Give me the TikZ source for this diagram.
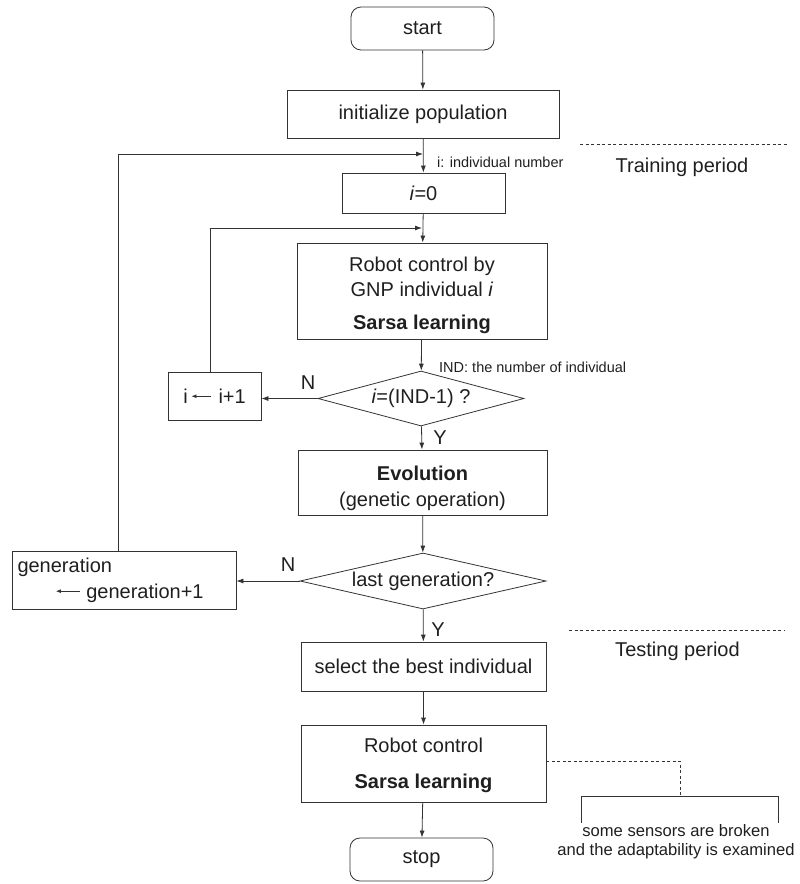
\documentclass[tikz,border=0pt]{standalone}
\usepackage{fontspec}
\setmainfont{Liberation Sans}
\usetikzlibrary{shapes.geometric,arrows.meta}

\definecolor{tc}{gray}{0.12}
\definecolor{lc}{gray}{0.2}

\newcommand\mainsz{\fontsize{20pt}{25pt}\selectfont}
\newcommand\notesz{\fontsize{14.5pt}{17pt}\selectfont}
\newcommand\midsz{\fontsize{16.6pt}{19pt}\selectfont}
% short left arrow used inside assignment boxes
\newcommand\assignarrow[1]{\tikz[baseline=-7pt]\draw[draw=lc,line width=0.8pt,-{Latex[length=5pt,width=4pt]}] (#1,0pt) -- (0pt,0pt);}
% invisible strut that lowers a multi-line box text
\newcommand\topstrut[1]{\rule{0pt}{#1}}

\tikzset{
  base/.style={draw=lc, line width=0.8pt, text=tc, inner sep=0pt, font=\mainsz},
  proc/.style={base, rectangle, align=center},
  term/.style={base, rectangle, rounded corners=10pt},
  decide/.style={base, diamond, aspect=4},
  flow/.style={draw=lc, line width=0.8pt, -{Latex[length=7pt,width=5pt]}},
  plain/.style={draw=lc, line width=0.8pt},
  period/.style={draw=lc, line width=0.8pt, dash pattern=on 3pt off 2.5pt},
  lbl/.style={text=tc, inner sep=0pt, font=\mainsz},
  note/.style={text=tc, inner sep=0pt, font=\notesz, anchor=west},
}

\begin{document}
\begin{tikzpicture}[x=1pt,y=-1pt]
\useasboundingbox (0,0) rectangle (800,884);

% main flow
\node[term, minimum width=143pt, minimum height=43pt] (start) at (422.5,28.5) {start};
\node[proc, minimum width=272pt, minimum height=48pt] (init) at (423,114) {initialize population};
\node[proc, minimum width=163pt, minimum height=40pt] (i0) at (423.5,193) {\textit{i}=0};
\node[proc, minimum width=250pt, minimum height=96pt] (rob) at (422,291)
  {\topstrut{22.3pt}Robot control by\\GNP individual \textit{i}\\[8pt]\textbf{Sarsa learning}};
\node[decide, minimum width=206pt, minimum height=55pt] (d1) at (421,398.5) {\textit{i}=(IND-1) ?};
\node[proc, minimum width=93pt, minimum height=48pt] (inc) at (214.5,396)
  {i\,\assignarrow{20pt}\,\,i+1};
\node[proc, minimum width=249pt, minimum height=65pt] (evo) at (422.5,482.5)
  {\topstrut{26.3pt}\textbf{Evolution}\\[1pt](genetic operation)};
\node[decide, minimum width=246pt, minimum height=56pt] (d2) at (423,581) {last generation?};
\node[base, rectangle, align=left, minimum width=224pt, minimum height=58pt,
      text width=213pt] (gen) at (124,580)
  {generation\\[1pt]\hspace*{38pt}\assignarrow{24pt}\hspace*{6pt}generation+1};
\node[proc, minimum width=245pt, minimum height=49pt] (sel) at (423.5,666.5) {select the best individual};
\node[proc, minimum width=245pt, minimum height=77pt] (rob2) at (423.5,763.5)
  {\topstrut{18.3pt}Robot control\\[11pt]\textbf{Sarsa learning}};
\node[term, minimum width=143pt, minimum height=43pt] (stop) at (421.5,859.5) {stop};

% junction points of the loops
\coordinate (j0) at (423,154);
\coordinate (j1) at (422,228);

% connectors
\draw[flow] (start) -- (init);
\draw[flow] (init) -- (i0);
\draw[flow] (i0) -- (rob);
\draw[flow] (rob) -- (d1);
\draw[flow] (d1) -- (evo);
\draw[flow] (d1.west) -- (d1.west -| inc.east);
\draw[flow] ([xshift=-4.5pt]inc.north) |- (j1);
\draw[flow] (evo) -- (d2);
\draw[flow] (d2.west) -- (d2.west -| gen.east);
\draw[flow] ([xshift=-6pt]gen.north) |- (j0);
\draw[flow] (d2) -- (sel);
\draw[flow] (sel) -- (rob2);
\draw[flow] (rob2) -- (stop);

% branch labels
\node[lbl] (n1) at (308,383) {N};
\node[lbl] (n2) at (288,565) {N};
\node[lbl] (y1) at (440,438) {Y};
\node[lbl] (y2) at (438,630) {Y};

% side notes
\node[note] (inote) at (437,162) {i: individual number};
\node[note] (indnote) at (439,367) {IND: the number of individual};

% period separators
\coordinate (trL) at (580,144);
\coordinate (trR) at (787,144);
\draw[period] (trL) -- (trR);
\node[lbl] (train) at (682,167) {Training period};
\coordinate (teL) at (569,630);
\coordinate (teR) at (785,630);
\draw[period] (teL) -- (teR);
\node[lbl] (test) at (677.5,651) {Testing period};

% broken-sensor annotation
\coordinate (brk) at (680,796);
\coordinate (brL) at (581,823);
\coordinate (brR) at (778,823);
\draw[period] ([yshift=2.5pt]rob2.east) -| (brk);
\draw[plain] (brL) |- (brk) -| (brR);
\node[text=tc, inner sep=0pt, font=\midsz, align=center] (sensor) at (676,841.5)
  {some sensors are broken\\and the adaptability is examined};
\end{tikzpicture}
\end{document}
